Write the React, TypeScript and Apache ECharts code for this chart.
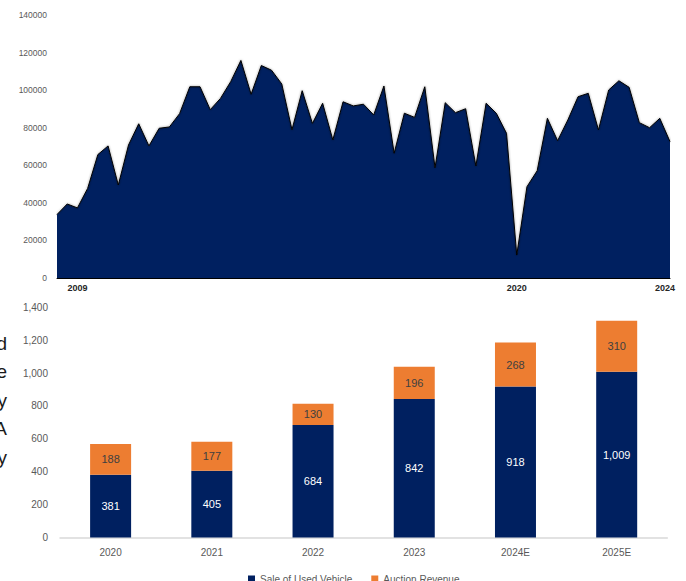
import React, { useEffect, useRef } from "react";
import * as echarts from "echarts";

// ---- Top chart: quarterly volume, 2009Q1 .. 2024Q1 ----
const quarters: string[] = [];
for (let y = 2009; y <= 2024; y++) {
  for (let q = 1; q <= 4; q++) {
    if (y === 2024 && q > 1) break;
    quarters.push(`${y}Q${q}`);
  }
}
const volumeValues = [
  33800, 39400, 37300, 47700, 65700, 70300, 49500, 70800, 82100, 70300,
  79700, 80400, 87500, 101800, 101800, 89600, 95600, 104500, 115800, 97800,
  113100, 110600, 103300, 78900, 99700, 82300, 93000, 73500, 93800, 91600,
  92500, 86800, 102200, 66400, 87700, 85500, 101800, 58700, 93300, 88000,
  90100, 59600, 93000, 87700, 77000, 12200, 48600, 57100, 85000, 73100,
  84100, 96500, 98300, 78800, 100100, 105000, 101500, 82700, 80000, 85000,
  72600,
];
const topLabelIndex = [2, 45, 60];
const topLabelText = ["2009", "2020", "2024"];

// ---- Bottom chart: revenue ----
const years = ["2020", "2021", "2022", "2023", "2024E", "2025E"];
const saleOfUsedVehicle = [381, 405, 684, 842, 918, 1009];
const auctionRevenue = [188, 177, 130, 196, 268, 310];

// ---- Cut-off side text (clipped at the page's left edge in the reference) ----
const sideLetters = ["d", "e", "y", "A", "y"];

const NAVY = "#002060";
const ORANGE = "#ED7D31";

export default function App() {
  const ref = useRef<HTMLDivElement>(null);

  useEffect(() => {
    if (!ref.current) return;
    const chart = echarts.init(ref.current, undefined, { renderer: "svg" });
    const fmt = (v: number) => v.toLocaleString("en-US");

    chart.setOption({
      animation: false,
      backgroundColor: "#ffffff",
      textStyle: { fontFamily: "Liberation Sans, Arial, sans-serif" },
      grid: [
        { left: 57, right: 16, top: 15, height: 263 },
        { left: 60, right: 18.7, top: 307.4, height: 230 },
      ],
      xAxis: [
        {
          gridIndex: 0,
          type: "category",
          data: quarters,
          boundaryGap: false,
          axisLine: { lineStyle: { color: "#000000", width: 1 } },
          axisTick: { show: false },
          axisLabel: {
            interval: (i: number) => topLabelIndex.includes(i),
            formatter: (_v: string, i: number) => {
              const k = topLabelIndex.indexOf(i);
              if (k < 0) return "";
              return k === topLabelIndex.length - 1
                ? `{r|${topLabelText[k]}}`
                : topLabelText[k];
            },
            rich: { r: { padding: [0, 10, 0, 0], fontWeight: "bold", fontSize: 9, color: "#262626" } },
            fontWeight: "bold",
            fontSize: 9,
            color: "#262626",
            margin: 5,
          },
        },
        {
          gridIndex: 1,
          type: "category",
          data: years,
          axisLine: { lineStyle: { color: "#d9d9d9", width: 1.5 } },
          axisTick: { show: false },
          axisLabel: { fontSize: 10, color: "#595959", margin: 10 },
        },
      ],
      yAxis: [
        {
          gridIndex: 0,
          type: "value",
          min: 0,
          max: 140000,
          interval: 20000,
          splitLine: { show: false },
          axisLine: { show: false },
          axisTick: { show: false },
          axisLabel: { fontSize: 8.5, color: "#595959", margin: 10, formatter: (v: number) => String(v) },
        },
        {
          gridIndex: 1,
          type: "value",
          min: 0,
          max: 1400,
          interval: 200,
          splitLine: { show: false },
          axisLine: { show: false },
          axisTick: { show: false },
          axisLabel: { fontSize: 10, color: "#595959", margin: 12, formatter: (v: number) => fmt(v) },
        },
      ],
      legend: {
        top: 569,
        left: 243,
        icon: "rect",
        itemWidth: 7,
        itemHeight: 7,
        itemGap: 19,
        textStyle: { fontSize: 10, color: "#595959" },
        data: ["Sale of Used Vehicle", "Auction Revenue"],
      },
      series: [
        {
          type: "line",
          xAxisIndex: 0,
          yAxisIndex: 0,
          data: volumeValues,
          symbol: "none",
          lineStyle: { color: "#000000", width: 1, shadowBlur: 2, shadowColor: "rgba(0,0,0,0.5)" },
          areaStyle: { color: NAVY, opacity: 1 },
        },
        {
          name: "Sale of Used Vehicle",
          type: "bar",
          xAxisIndex: 1,
          yAxisIndex: 1,
          stack: "rev",
          barWidth: 41,
          data: saleOfUsedVehicle,
          itemStyle: { color: NAVY },
          label: { show: true, position: "inside", color: "#ffffff", fontSize: 11, formatter: (p: any) => fmt(p.value) },
        },
        {
          name: "Auction Revenue",
          type: "bar",
          xAxisIndex: 1,
          yAxisIndex: 1,
          stack: "rev",
          barWidth: 41,
          data: auctionRevenue,
          itemStyle: { color: ORANGE },
          label: { show: true, position: "inside", color: "#404040", fontSize: 11, formatter: (p: any) => fmt(p.value) },
        },
      ],
      graphic: sideLetters.map((t, i) => ({
        type: "text",
        x: 7,
        y: 343 + i * 28.5,
        style: {
          text: t,
          font: "19px 'Liberation Sans', Arial, sans-serif",
          fill: "#1a1a1a",
          align: "right",
          verticalAlign: "middle",
        },
      })),
    });

    return () => chart.dispose();
  }, []);

  return (
    <div
      ref={ref}
      style={{ position: "fixed", left: 0, top: 0, width: 686, height: 581 }}
    />
  );
}
